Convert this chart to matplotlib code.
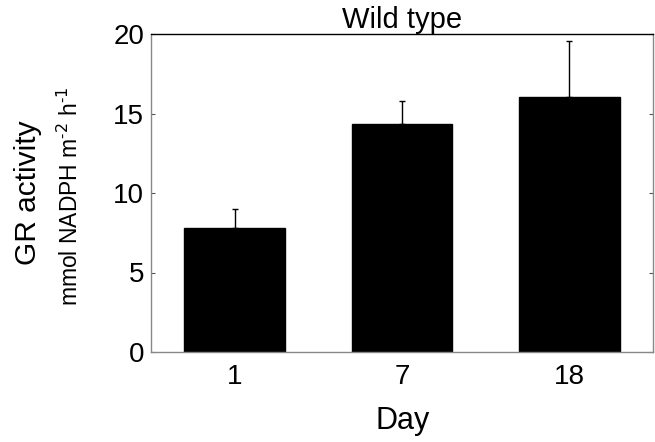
import matplotlib
matplotlib.use("Agg")
import matplotlib.pyplot as plt
import numpy as np

plt.rcParams['font.family'] = ['Liberation Sans', 'DejaVu Sans']

days = ["1", "7", "18"]
means = [7.82, 14.32, 16.02]
err_upper = [1.17, 1.45, 3.56]
yticks = [0, 5, 10, 15, 20]

W, H = 655, 442
fig = plt.figure(figsize=(W/100, H/100), dpi=100)
ax = fig.add_axes([151/W, 1 - 352/H, (653-151)/W, (352-34)/H])

x = np.arange(1, len(days) + 1)
ax.bar(x, means, width=0.6, color='black', edgecolor='black', zorder=2)
ax.errorbar(x, means, yerr=[np.zeros(len(means)), err_upper], fmt='none',
            ecolor='black', elinewidth=1, capsize=2.5, capthick=1, zorder=1)

ax.set_xlim(0.5, 3.5)
ax.set_ylim(0, 20)
ax.set_xticks(x)
ax.set_xticklabels(days)
ax.set_yticks(yticks)
ax.tick_params(axis='both', direction='in', length=3, width=0.8, labelsize=20,
               top=False, right=True, color='#555555')
ax.tick_params(axis='x', length=0, pad=9)
ax.tick_params(axis='y', pad=5)
for s in ['left', 'bottom', 'right']:
    ax.spines[s].set_color('#888888')
    ax.spines[s].set_linewidth(1)
ax.spines['top'].set_color('black')
ax.spines['top'].set_linewidth(1)

ax.set_title("Wild type", fontsize=21, pad=1)
fig.text(403/W, 1 - 421/H, "Day", fontsize=22, ha='center', va='center')
fig.text(28/W, 1 - 193/H, "GR activity", fontsize=21.5, rotation=90,
         ha='center', va='center')
fig.text(70/W, 1 - 196/H, "mmol NADPH m$^{\\mathregular{\u2010}2}$ h$^{\\mathregular{\u2010}1}$",
         fontsize=16.5, rotation=90, ha='center', va='center')

fig.savefig("out.png", dpi=100)
